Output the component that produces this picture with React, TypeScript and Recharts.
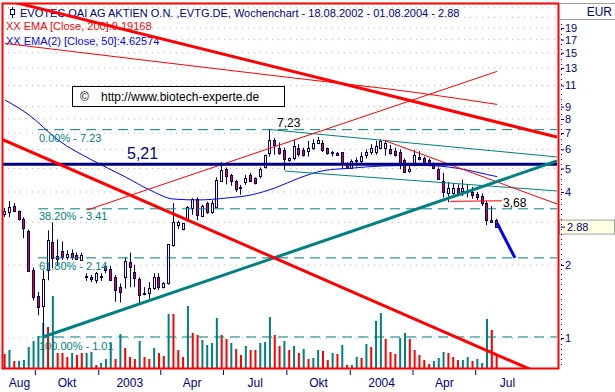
import React from 'react'
import {
  ComposedChart,
  Bar,
  Line,
  XAxis,
  YAxis,
  CartesianGrid,
  ReferenceLine
} from 'recharts'

// Wochenkerzen 18.08.2002 - 01.08.2004 (Tage seit 18.08.2002 = Woche * 7)
const opens = [
  3.25, 3.3, 3.5, 3.33, 3.1, 2.76, 1.9, 1.49, 1.35, 1.9, 2.49, 2.18, 2.28, 2.16, 2.24, 2.2, 2.1, 1.8, 1.78, 1.73,
  1.8, 1.98, 1.92, 1.78, 1.62, 1.78, 2.05, 1.87, 1.75, 1.54, 1.53, 1.61, 1.78, 1.62, 1.68, 2.42, 2.93, 2.81, 3.06, 3.44,
  3.74, 3.2, 3.6, 3.3, 3.47, 4.44, 5.0, 4.7, 4.43, 4.15, 4.4, 4.7, 4.55, 4.65, 5.07, 5.78, 6.55, 6.1, 5.97, 5.43,
  5.5, 6.1, 5.97, 5.9, 6.1, 6.35, 6.35, 6.05, 5.85, 5.8, 5.84, 5.21, 5.03, 5.4, 5.37, 5.7, 5.84, 5.84, 6.1, 6.1,
  6.0, 5.9, 5.84, 5.4, 4.9, 5.18, 5.6, 5.5, 5.4, 5.21, 4.97, 4.44, 3.96, 3.96, 4.15, 4.05, 4.0, 4.0, 3.92, 3.85,
  3.6, 3.06, 3.06
]
const highs = [
  3.44, 3.67, 3.6, 3.36, 3.15, 2.8, 1.95, 1.55, 1.9, 2.78, 3.0, 2.55, 2.5, 2.3, 2.32, 2.25, 2.25, 1.85, 1.82, 1.87,
  1.85, 2.0, 1.98, 1.82, 1.68, 2.16, 2.25, 2.0, 1.78, 1.62, 1.7, 1.85, 1.85, 1.7, 2.44, 3.6, 3.05, 2.97, 3.5, 3.77,
  3.8, 3.55, 3.65, 3.7, 4.6, 5.3, 5.05, 4.75, 4.49, 4.28, 4.71, 4.8, 4.6, 5.05, 5.7, 7.23, 6.68, 6.4, 6.1, 5.55,
  6.55, 6.3, 6.1, 6.5, 6.6, 6.75, 6.55, 6.1, 5.9, 5.85, 5.85, 5.3, 5.45, 5.55, 5.84, 6.0, 6.3, 6.5, 6.6, 6.5,
  6.25, 6.1, 6.0, 5.5, 5.25, 5.97, 5.9, 5.6, 5.5, 5.3, 5.05, 4.8, 4.4, 4.35, 4.3, 4.5, 4.3, 4.2, 4.0, 3.95,
  3.68, 3.5, 3.1
]
const lows = [
  3.16, 3.15, 3.3, 3.05, 2.58, 1.87, 1.43, 1.24, 1.01, 1.73, 1.94, 2.0, 2.1, 2.1, 2.1, 2.1, 2.08, 1.72, 1.7, 1.68,
  1.72, 1.85, 1.72, 1.41, 1.4, 1.6, 1.62, 1.62, 1.37, 1.5, 1.45, 1.58, 1.58, 1.6, 1.66, 2.38, 2.82, 2.78, 3.06, 3.22,
  3.06, 3.15, 3.25, 3.25, 3.44, 4.4, 4.3, 4.25, 4.0, 3.9, 4.28, 4.4, 4.3, 4.55, 5.0, 5.6, 5.7, 5.7, 4.93, 5.33,
  5.4, 5.6, 5.6, 5.6, 5.97, 6.3, 5.85, 5.7, 5.6, 5.65, 4.97, 5.0, 5.0, 5.1, 5.2, 5.5, 5.7, 5.7, 6.0, 5.65,
  5.7, 5.6, 4.97, 4.8, 4.8, 5.1, 5.4, 5.2, 5.1, 4.97, 4.5, 3.8, 3.63, 3.9, 3.9, 3.85, 3.8, 3.75, 3.7, 3.5,
  2.92, 2.98, 2.88
]
const closes = [
  3.35, 3.47, 3.35, 3.1, 2.85, 1.89, 1.48, 1.34, 1.75, 2.53, 2.14, 2.12, 2.15, 2.22, 2.15, 2.12, 2.2, 1.78, 1.75, 1.85,
  1.78, 1.9, 1.73, 1.58, 1.55, 2.08, 1.96, 1.77, 1.5, 1.52, 1.61, 1.78, 1.62, 1.68, 2.44, 3.0, 3.0, 2.97, 3.47, 3.74,
  3.21, 3.5, 3.3, 3.6, 4.47, 4.93, 4.65, 4.45, 4.1, 4.18, 4.58, 4.45, 4.35, 5.0, 5.67, 6.55, 6.25, 5.82, 5.46, 5.54,
  6.17, 5.75, 5.7, 6.1, 6.4, 6.56, 5.97, 5.78, 5.8, 5.7, 5.26, 5.03, 5.37, 5.43, 5.63, 5.84, 6.1, 6.2, 6.47, 6.4,
  5.78, 5.7, 5.18, 4.84, 5.0, 5.7, 5.45, 5.26, 5.2, 5.03, 4.53, 4.0, 4.15, 4.15, 3.96, 4.15, 4.05, 3.9, 3.8, 3.6,
  3.06, 3.0, 2.88
]
// Umsatz (relative Einheiten) und Farbe (1 = teal, 0 = rot)
const volumes = [
  14, 18, 7, 7, 8, 21, 27, 32, 45, 41, 72, 15, 15, 11, 15, 13, 15, 15, 16, 3,
  5, 9, 25, 9, 34, 20, 11, 9, 27, 11, 9, 20, 15, 12, 54, 54, 18, 11, 62, 35,
  33, 28, 23, 25, 50, 33, 29, 25, 19, 13, 22, 18, 18, 25, 26, 51, 33, 22, 27, 18,
  22, 15, 19, 9, 10, 18, 17, 8, 15, 14, 23, 3, 3, 11, 10, 24, 21, 47, 55, 29,
  16, 14, 30, 35, 29, 18, 13, 8, 4, 7, 10, 16, 15, 11, 8, 8, 11, 7, 9, 5,
  49, 38, 13
]
const volumeUp = [
  0, 1, 0, 1, 1, 1, 1, 1, 1, 0, 1, 0, 0, 0, 1, 0, 0, 1, 1, 0,
  1, 1, 1, 0, 1, 0, 0, 0, 1, 0, 0, 1, 0, 0, 1, 0, 0, 0, 1, 0,
  0, 1, 1, 1, 1, 0, 0, 1, 0, 0, 1, 0, 0, 1, 1, 1, 0, 0, 1, 0,
  1, 0, 1, 0, 1, 1, 0, 0, 1, 0, 1, 0, 1, 1, 0, 1, 0, 1, 1, 0,
  0, 0, 1, 1, 0, 0, 0, 0, 0, 1, 1, 1, 0, 0, 0, 1, 1, 0, 1, 1,
  1, 0, 0
]
// Gleitende Durchschnitte: [Woche, Wert]
const ema50Points = [
  [0, 9.58], [5, 8.31], [11, 6.55], [18, 5.42], [25, 4.61], [30, 4.08], [35, 3.74], [40, 3.71],
  [46, 3.78], [51, 3.89], [56, 4.16], [61, 4.57], [66, 4.9], [72, 5.02], [78, 5.12], [86, 5.15],
  [92, 5.07], [96, 4.92], [100, 4.72], [102, 4.63]
]
const ema200Points = [[0, 16.4], [30, 13.9], [60, 11.8], [85, 10.3], [102, 9.19]]

// Achsen
const quarterStarts = [44, 136, 226, 317, 409, 501, 592, 683]
const labelDays = [21, 90, 181, 271.5, 363, 455, 546.5, 637.5, 729]
const monthLabels = ['Aug', 'Okt', '2003', 'Apr', 'Jul', 'Okt', '2004', 'Apr', 'Jul']
const priceTicks = [1, 2, 2.88, 4, 5, 6, 7, 8, 9, 11, 13, 15, 17, 19]
const gridValues = [1, 2, 3, 4, 5, 6, 7, 8, 9, 11, 13, 15, 17, 19, 21, 23]
const lastClose = 2.88

// Fibonacci-Retracements
const fibLevels = [7.23, 3.41, 2.14, 1.01]
const fibNames = ['0.00% - 7.23', '38.20% - 3.41', '61.80% - 2.14', '100.00% - 1.01']
const fibStartDay = 48

// Trendlinien: [TagA, KursA, TagB, KursB]
const thickRedLines = [
  [7, 24.5, 801, 6.74],
  [-4, 6.59, 801, 0.665]
]
const thinRedLines = [
  [119, 3.37, 714, 12.57],
  [549, 6.55, 801, 3.57],
  [646, 3.66, 721, 3.68]
]
const tealThinLines = [
  [386, 7.23, 801, 5.58],
  [406, 4.88, 801, 4.04]
]
const tealSupport = [55, 1.01, 801, 5.37]
const arrowLine = [714, 2.98, 740, 2.14]
const resistance = 5.21

const navy = '#000080'
const teal = '#008080'
const red = '#ff0000'
const blue = '#0000ff'
const font = '"Liberation Sans", Arial, sans-serif'

const emaAt = (pts: number[][], i: number) => {
  const p = pts.find((q) => q[0] === i)
  return p ? p[1] : null
}

const rows = opens.map((o, i) => ({
  day: i * 7,
  range: [lows[i], highs[i]],
  o,
  h: highs[i],
  l: lows[i],
  c: closes[i],
  vol: volumes[i],
  volUp: volumeUp[i] === 1,
  ema50: emaAt(ema50Points, i),
  ema200: emaAt(ema200Points, i)
}))

const Candle = (props: any) => {
  const { x, y, width, height, payload } = props
  if (!payload || height == null) return null
  const { o, h, l, c } = payload
  const span = Math.log(h) - Math.log(l)
  const toPx = (v: number) => (span > 0 ? y + (height * (Math.log(h) - Math.log(v))) / span : y)
  const cx = Math.floor(x + width / 2) + 0.5
  const top = Math.round(toPx(Math.max(o, c))) + 0.5
  let bot = Math.round(toPx(Math.min(o, c))) + 0.5
  if (bot - top < 1) bot = top + 1
  return (
    <g>
      <line x1={cx} x2={cx} y1={y} y2={y + height} stroke={navy} strokeWidth={1} />
      <rect x={cx - 1} y={top} width={2} height={bot - top} fill={c >= o ? '#ffffff' : red} stroke={navy} strokeWidth={1} />
    </g>
  )
}

const VolumeBar = (props: any) => {
  const { x, y, width, height, payload } = props
  if (!payload || !height) return null
  return <rect x={x} y={y} width={width} height={height} fill={payload.volUp ? teal : red} />
}

// Quartalsstriche unter dem Rahmen, Monatsnamen mittig im Quartal
const XTick = (props: any) => {
  const { x, payload } = props
  const v = payload.value
  if (quarterStarts.includes(v)) {
    return <line x1={x} x2={x} y1={370} y2={375} stroke={navy} />
  }
  const li = labelDays.indexOf(v)
  return (
    <text x={x} y={387} textAnchor="middle" fontSize={12} fontFamily={font} fill={navy}>
      {monthLabels[li]}
    </text>
  )
}

const PriceTick = (props: any) => {
  const { x, y, payload } = props
  const v = payload.value
  if (v === lastClose) {
    return (
      <g>
        <rect x={x + 2.5} y={y - 6.5} width={55} height={14} fill="#ffffe1" stroke="#a0a0a0" />
        <line x1={x + 4} x2={x + 8} y1={y + 0.5} y2={y + 0.5} stroke={navy} />
        <text x={x + 10} y={y + 4.5} fontSize={11} fontFamily={font} fill={navy}>{v.toFixed(2)}</text>
      </g>
    )
  }
  return (
    <g>
      <line x1={x + 4} x2={x + 7} y1={y + 0.5} y2={y + 0.5} stroke={navy} />
      <text x={x + 8} y={y + 4} fontSize={11} fontFamily={font} fill={navy}>{v}</text>
    </g>
  )
}

const seg = (s: number[]) => [
  { x: s[0], y: s[1] },
  { x: s[2], y: s[3] }
]

export default function App() {
  return (
    <div style={{ position: 'absolute', left: 0, top: 0, width: 615, height: 392, background: '#ffffff', overflow: 'hidden' }}>
      {/* Kopfzeile unter dem Chart */}
      <svg width={615} height={392} style={{ position: 'absolute', left: 0, top: 0 }}>
        <line x1={12.5} x2={12.5} y1={7} y2={18} stroke={navy} />
        <rect x={10.5} y={9.5} width={4} height={5} fill="#ffffff" stroke={navy} />
        <text x={20} y={17} fontSize={11} fontFamily={font} fill={navy}>
          EVOTEC OAI AG AKTIEN O.N. ,EVTG.DE, Wochenchart - 18.08.2002 - 01.08.2004 - 2.88
        </text>
        <text x={6} y={30} fontSize={11} fontFamily={font} fill={red}>XX EMA [Close, 200]:9.19168</text>
        <text x={6} y={45} fontSize={11} fontFamily={font} fill={blue}>XX EMA(2) [Close, 50]:4.62574</text>
      </svg>

      <div style={{ position: 'absolute', left: 0, top: 0 }}>
        <ComposedChart width={615} height={392} data={rows} margin={{ top: 3, right: 0, bottom: 0, left: 2 }}>
          <CartesianGrid
            xAxisId="x"
            yAxisId="p"
            vertical={false}
            horizontalValues={gridValues}
            stroke="#b4b4b4"
            strokeDasharray="1 5"
          />
          <XAxis
            xAxisId="x"
            dataKey="day"
            type="number"
            domain={[-4.4, 801]}
            allowDataOverflow
            ticks={[...quarterStarts, ...labelDays]}
            interval={0}
            tick={<XTick />}
            tickLine={false}
            axisLine={false}
            tickSize={0}
            tickMargin={0}
            height={24}
          />
          <XAxis xAxisId="v" dataKey="day" type="number" domain={[-4.4, 801]} allowDataOverflow hide />
          <YAxis
            yAxisId="p"
            orientation="right"
            scale="log"
            type="number"
            domain={[0.7522, 24.07]}
            allowDataOverflow
            ticks={priceTicks}
            interval={0}
            tick={<PriceTick />}
            tickLine={false}
            axisLine={false}
            tickSize={0}
            tickMargin={0}
            width={58}
          />
          <YAxis yAxisId="v" type="number" domain={[0, 365]} allowDataOverflow hide />

          <Bar xAxisId="v" yAxisId="v" dataKey="vol" barSize={2} shape={<VolumeBar />} isAnimationActive={false} />

          {fibLevels.map((v) => (
            <ReferenceLine
              key={'f' + v}
              xAxisId="x"
              yAxisId="p"
              segment={[{ x: fibStartDay, y: v }, { x: 801, y: v }]}
              stroke={teal}
              strokeDasharray="10 6"
              ifOverflow="hidden"
            />
          ))}

          <Bar xAxisId="x" yAxisId="p" dataKey="range" barSize={4} shape={<Candle />} isAnimationActive={false} />

          <Line xAxisId="x" yAxisId="p" dataKey="ema200" type="monotone" connectNulls dot={false} stroke={red} strokeWidth={1} isAnimationActive={false} />
          <Line xAxisId="x" yAxisId="p" dataKey="ema50" type="monotone" connectNulls dot={false} stroke={blue} strokeWidth={1} isAnimationActive={false} />

          {tealThinLines.map((s, i) => (
            <ReferenceLine key={'t' + i} xAxisId="x" yAxisId="p" segment={seg(s)} stroke={teal} strokeWidth={1} ifOverflow="hidden" />
          ))}
          {thinRedLines.map((s, i) => (
            <ReferenceLine key={'r' + i} xAxisId="x" yAxisId="p" segment={seg(s)} stroke={red} strokeWidth={1} ifOverflow="hidden" />
          ))}
          <ReferenceLine xAxisId="x" yAxisId="p" y={resistance} stroke={navy} strokeWidth={3} ifOverflow="hidden" />
          <ReferenceLine xAxisId="x" yAxisId="p" segment={seg(tealSupport)} stroke={teal} strokeWidth={3} ifOverflow="hidden" />
          {thickRedLines.map((s, i) => (
            <ReferenceLine key={'R' + i} xAxisId="x" yAxisId="p" segment={seg(s)} stroke={red} strokeWidth={3} ifOverflow="hidden" />
          ))}
          <ReferenceLine xAxisId="x" yAxisId="p" segment={seg(arrowLine)} stroke={blue} strokeWidth={3} ifOverflow="hidden" />
        </ComposedChart>
      </div>

      {/* Rahmen, Beschriftungen */}
      <svg width={615} height={392} style={{ position: 'absolute', left: 0, top: 0, pointerEvents: 'none' }}>
        <rect x={2.5} y={3.5} width={556} height={365} fill="none" stroke={red} strokeWidth={2} />
        <line x1={561.5} x2={561.5} y1={24} y2={368} stroke={navy} strokeDasharray="1 4" />
        <line x1={560} x2={615} y1={3.5} y2={3.5} stroke="#a0a0a0" />
        <line x1={560} x2={615} y1={19.5} y2={19.5} stroke="#a0a0a0" />
        <text x={612} y={16} textAnchor="end" fontSize={12} fontFamily={font} fill={navy}>EUR</text>

        <rect x={72.5} y={86.5} width={212} height={20} fill="#ffffff" stroke="#000000" />
        <text x={80} y={101} fontSize={12} fontFamily={font} fill="#000000">©</text>
        <text x={101} y={101} fontSize={12} fontFamily={font} fill="#000000">http://www.biotech-experte.de</text>

        {fibNames.map((t, i) => (
          <text key={t} x={39} y={[142, 220, 270, 350][i]} fontSize={11} fontFamily={font} fill={teal}>{t}</text>
        ))}
        <text x={127} y={159} fontSize={16} fontFamily={font} fill={navy}>5,21</text>
        <text x={277} y={127} fontSize={12} fontFamily={font} fill="#000000">7,23</text>
        <text x={503} y={207} fontSize={12} fontFamily={font} fill="#000000">3,68</text>
      </svg>
    </div>
  )
}
